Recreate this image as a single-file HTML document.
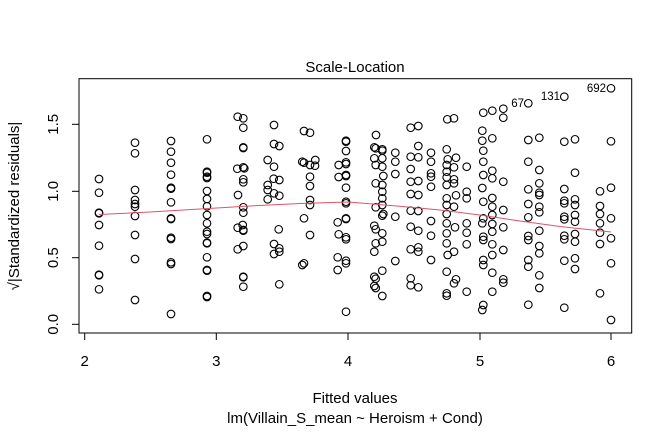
<!DOCTYPE html>
<html><head><style>
html,body{margin:0;padding:0;background:#fff;}
svg{display:block;font-family:"Liberation Sans",Arial,sans-serif;}
</style></head><body>
<svg id="s" width="672" height="432" viewBox="0 0 672 432" xmlns="http://www.w3.org/2000/svg">
<rect x="0" y="0" width="672" height="432" fill="#fff"/>
<rect x="79" y="78.7" width="552.7" height="254.3" fill="none" stroke="#000" stroke-width="1"/>
<g stroke="#000" stroke-width="1">
<line x1="84.7" y1="333" x2="611" y2="333"/>
<line x1="84.7" y1="333" x2="84.7" y2="340"/>
<line x1="216.3" y1="333" x2="216.3" y2="340"/>
<line x1="348" y1="333" x2="348" y2="340"/>
<line x1="480" y1="333" x2="480" y2="340"/>
<line x1="611" y1="333" x2="611" y2="340"/>
<line x1="79" y1="124.3" x2="79" y2="324.3"/>
<line x1="72" y1="124.3" x2="79" y2="124.3"/>
<line x1="72" y1="191.3" x2="79" y2="191.3"/>
<line x1="72" y1="257.7" x2="79" y2="257.7"/>
<line x1="72" y1="324.3" x2="79" y2="324.3"/>
</g>
<g font-size="15" text-anchor="middle" fill="#000">
<text x="84.7" y="366">2</text><text x="216.3" y="366">3</text><text x="348" y="366">4</text><text x="480" y="366">5</text><text x="611" y="366">6</text>
<text transform="translate(58,124.3) rotate(-90)">1.5</text>
<text transform="translate(58,191.3) rotate(-90)">1.0</text>
<text transform="translate(58,257.7) rotate(-90)">0.5</text>
<text transform="translate(58,324.3) rotate(-90)">0.0</text>
<text x="355" y="72">Scale-Location</text>
<text x="355" y="403">Fitted values</text>
<text x="355" y="423">lm(Villain_S_mean ~ Heroism + Cond)</text>
<text transform="translate(19,206) rotate(-90)">√|Standardized residuals|</text>
</g>
<g font-size="11.5" text-anchor="end" fill="#000">
<text x="524" y="107">67</text>
<text x="560" y="100">131</text>
<text x="606" y="92">692</text>
</g>
<g id="pts" fill="none" stroke="#000" stroke-width="1.1"></g>
<polyline fill="none" stroke="#df536b" stroke-width="1" points="99,214.5 150,212 200,209 250,206 300,203.5 348,202 397,206 440,210 480,215 520,221 560,226.5 611,232"/>
</svg>
<script>
var L=[[297,387],[297,428],[297,488],[297,490],[297,525],[297,587],[297,674],[297,676],[297,718],
[405,278],[405,310],[405,420],[405,450],[405,462],[405,470],[405,498],[405,555],[405,627],[405,750],
[513,273],[513,305],[513,338],[513,374],[513,413],[513,416],[513,457],[513,505],[513,507],[513,563],[513,567],[513,637],[513,642],[513,792],
[621,268],[621,365],[621,368],[621,380],[621,384],[621,423],[621,447],[621,469],[621,495],[621,520],[621,545],[621,552],[621,578],[621,580],[621,622],[621,660],[621,662],[621,738],[621,741],
[713,200],[730,205],[730,233],[730,294],[730,292],[712,356],[730,352],[733,355],[730,388],[730,397],[714,435],[730,472],[730,488],[728,525],[713,533],[730,540],[730,542],[730,588],[713,598],[730,680],[730,682],[730,710],
[803,330],[822,350],[803,405],[803,420],[821,386],[838,390],[822,430],[838,437],[803,448],[822,225],[822,282],[838,288],[836,538],[822,582],[838,595],[838,605],[822,612],[838,703],
[912,243],[930,248],[907,335],[912,338],[930,345],[946,330],[945,347],[930,380],[930,408],[930,450],[930,465],[912,505],[930,555],[907,645],[912,640],
[1016,345],[1016,381],[1013,517],[1016,553],[1013,622],[1013,660]];
var R=[[48,272],[48,275],[48,303],[48,337],[48,342],[48,375],[48,378],[48,413],[48,455],[48,460],[48,505],[48,507],[48,562],[48,568],[48,632],[48,640],[48,785],
[138,255],[133,292],[137,295],[157,298],[157,302],[133,325],[157,325],[137,345],[157,350],[160,378],[137,400],[157,405],[157,425],[157,445],[137,472],[157,465],[160,492],[157,497],[133,527],[137,538],[157,550],[157,575],[137,580],[133,605],[157,662],[133,680],[137,686],[133,708],[137,714],[157,738],
[196,308],[196,335],[196,372],[196,500],[196,633],
[242,233],[265,228],[242,320],[265,322],[242,357],[265,393],[242,395],[242,432],[265,435],[242,482],[265,483],[242,530],[265,542],[242,598],[265,592],[265,605],[242,685],[242,706],[265,712],[265,288],
[303,308],[303,335],[303,370],[303,380],[303,410],[303,513],[303,557],[303,630],
[352,208],[372,205],[350,298],[353,328],[378,323],[350,345],[372,352],[350,365],[350,382],[372,388],[350,405],[372,400],[378,436],[350,445],[350,465],[372,470],[350,492],[350,520],[375,532],[350,550],[350,580],[372,605],[353,615],[350,665],[378,688],[372,700],[350,730],[350,737],[410,350],[410,425],[410,445],[410,520],[410,548],[410,583],[410,725],
[460,188],[487,182],[520,176],[520,203],[457,242],[457,272],[487,265],[460,302],[460,335],[460,375],[487,362],[487,385],[457,414],[460,455],[487,444],[460,505],[487,470],[487,495],[457,520],[487,522],[460,560],[460,570],[487,545],[487,583],[460,630],[460,645],[487,615],[487,668],[460,765],[457,780],[487,725],[520,395],[520,480],[520,532],[520,600],[520,688],[520,698],
[595,160],[595,270],[628,263],[595,335],[628,360],[628,400],[595,418],[628,428],[628,435],[595,462],[628,470],[628,487],[595,502],[628,542],[595,558],[595,570],[628,588],[628,610],[595,630],[595,650],[628,676],[628,714],[595,764],
[703,140],[703,275],[735,268],[735,368],[703,417],[703,452],[703,460],[735,448],[735,465],[703,500],[703,508],[735,495],[735,515],[703,557],[703,568],[735,552],[735,575],[703,632],[735,625],[735,657],[703,773],
[843,115],[843,274],[843,413],[810,424],[810,468],[810,492],[843,505],[810,520],[810,548],[843,565],[810,582],[843,640],[810,730],[843,810]];
var g=document.getElementById('pts'),h='';
function add(x,y){h+='<circle cx="'+x.toFixed(1)+'" cy="'+y.toFixed(1)+'" r="3.8"/>';}
L.forEach(function(p){add(p[0]/3,50+p[1]/3);});
R.forEach(function(p){add(330+p[0]/3,50+p[1]/3);});
g.innerHTML=h;
</script>
</body></html>
